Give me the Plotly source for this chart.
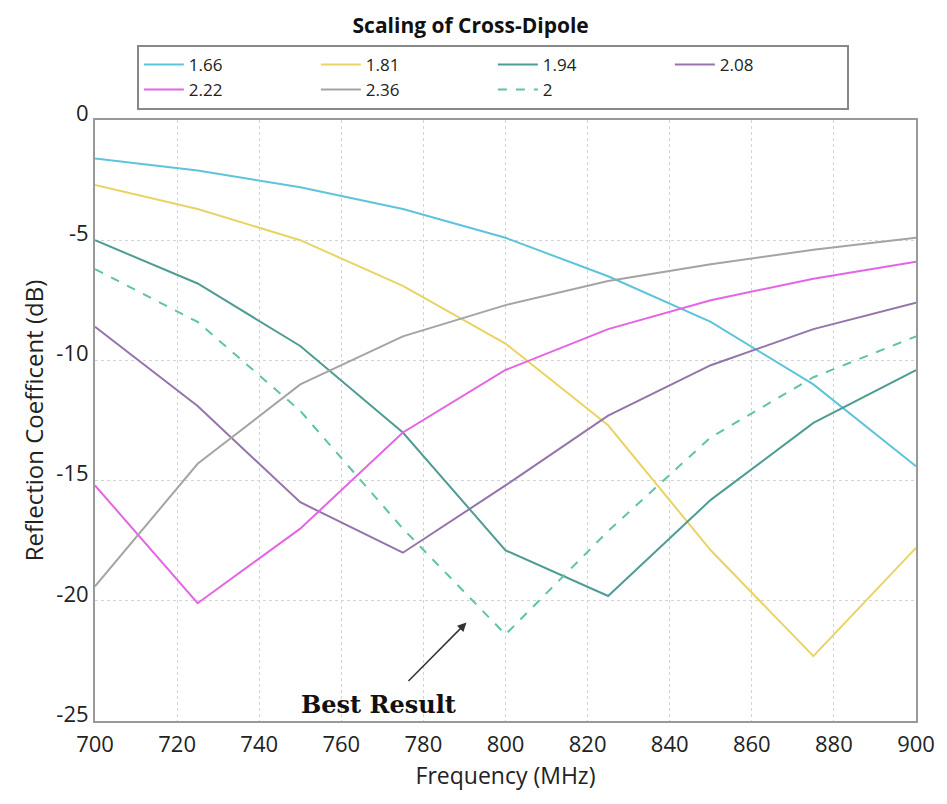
import plotly.graph_objects as go

freq = [700, 725, 750, 775, 800, 825, 850, 875, 900]
s166 = [-1.6, -2.1, -2.8, -3.7, -4.9, -6.5, -8.4, -11.0, -14.4]
s181 = [-2.7, -3.7, -5.0, -6.9, -9.3, -12.7, -17.9, -22.3, -17.8]
s194 = [-5.0, -6.8, -9.4, -13.0, -17.9, -19.8, -15.8, -12.6, -10.4]
s208 = [-8.6, -11.9, -15.9, -18.0, -15.2, -12.3, -10.2, -8.7, -7.6]
s222 = [-15.2, -20.1, -17.0, -13.0, -10.4, -8.7, -7.5, -6.6, -5.9]
s236 = [-19.4, -14.3, -11.0, -9.0, -7.7, -6.7, -6.0, -5.4, -4.9]
s200 = [-6.2, -8.4, -12.1, -17.0, -21.4, -17.1, -13.2, -10.7, -9.0]

x_ticks = [700, 720, 740, 760, 780, 800, 820, 840, 860, 880, 900]
y_ticks = [0, -5, -10, -15, -20, -25]
y_tick_labels = ["0", "-5", "-10", "-15", "-20", "-25"]

series = [
    ("1.66", s166, "#5ec3dc", "solid"),
    ("1.81", s181, "#e9d366", "solid"),
    ("1.94", s194, "#4e9c93", "solid"),
    ("2.08", s208, "#9474ab", "solid"),
    ("2.22", s222, "#e465e4", "solid"),
    ("2.36", s236, "#a4a4a4", "solid"),
    ("2", s200, "#5fc4a0", "dash"),
]

fig = go.Figure()
for name, ys, col, dash in series:
    fig.add_trace(go.Scatter(x=freq, y=ys, name=name, mode="lines",
                             line=dict(color=col, width=2, dash=dash)))

fig.update_layout(
    width=947, height=804,
    margin=dict(l=95, r=28, t=120, b=83),
    paper_bgcolor="white", plot_bgcolor="white",
    font=dict(family="Open Sans", color="#222"),
    title=dict(text="<b>Scaling of Cross-Dipole</b>", x=0.497, xanchor="center",
               y=0.968, yanchor="middle", font=dict(size=21, color="#111")),
    legend=dict(orientation="h", x=0.051, y=1.125, xanchor="left", yanchor="top",
                bordercolor="#888", borderwidth=2, bgcolor="white",
                entrywidth=122, entrywidthmode="pixels",
                font=dict(size=17, color="#222"), itemwidth=40,
                tracegroupgap=0),
    showlegend=True,
)
fig.update_xaxes(range=[700, 900], tickvals=x_ticks,
                 showgrid=True, gridcolor="#d4d4d4", griddash="dot", gridwidth=1,
                 showline=True, linecolor="#999", linewidth=2, mirror=True,
                 tickfont=dict(size=22, color="#222"), ticks="", ticklabelstandoff=3,
                 title=dict(text="Frequency (MHz)", font=dict(size=23, color="#222"), standoff=10),
                 zeroline=False)
fig.update_yaxes(range=[-25, 0], tickvals=y_ticks, ticktext=y_tick_labels,
                 showgrid=True, gridcolor="#d4d4d4", griddash="dot", gridwidth=1,
                 showline=True, linecolor="#999", linewidth=2, mirror=True,
                 tickfont=dict(size=22, color="#222"), ticks="", ticklabelshift=-7,
                 title=dict(text="Reflection Coefficent (dB)", font=dict(size=24, color="#222"), standoff=6),
                 zeroline=False)

fig.add_annotation(x=790.5, y=-20.9, ax=776, ay=-23.4, axref="x", ayref="y",
                   xref="x", yref="y", showarrow=True, arrowhead=2, arrowsize=1.2,
                   arrowwidth=1.5, arrowcolor="#333", text="")
fig.add_annotation(x=769, y=-24.3, xref="x", yref="y", showarrow=False,
                   text="<b>Best Result</b>",
                   font=dict(family="DejaVu Serif", size=24, color="#111"))

fig.write_html("out.html")
